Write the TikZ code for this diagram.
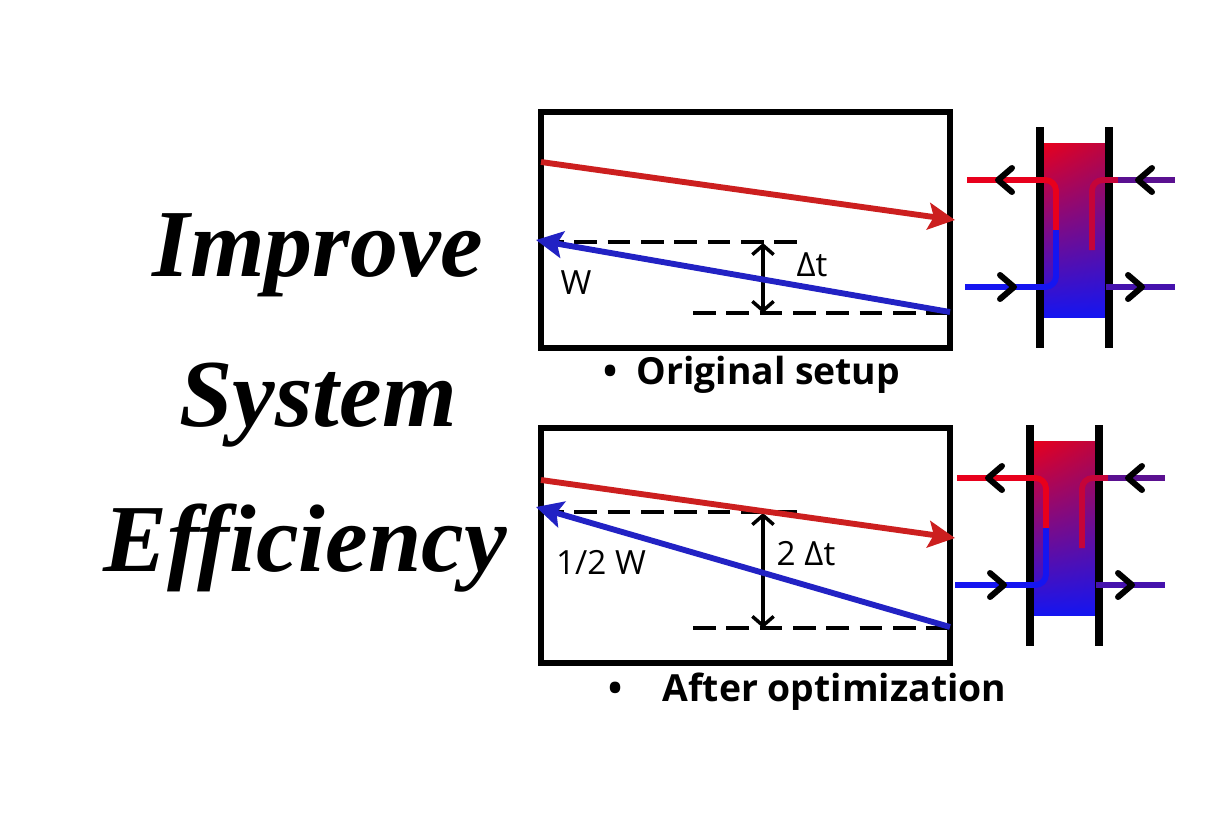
\documentclass[tikz,border=0pt]{standalone}
\usepackage{fontspec}
\setmainfont{Open Sans}
\newfontfamily\titlefont{Liberation Serif}
\usetikzlibrary{arrows.meta,shadings}
\definecolor{hr}{HTML}{CC1F1F}
\definecolor{hb}{HTML}{2222C4}
\definecolor{pr}{HTML}{E8001C}
\definecolor{pb}{HTML}{1515F0}
\definecolor{pp}{HTML}{5A1090}
\begin{document}
\begin{tikzpicture}[x=0.75pt,y=-0.75pt,
  boxf/.style={line width=3.8pt},
  hot/.style={hr,line width=4.4pt,-{Stealth[length=20pt,width=20pt,inset=4pt]}},
  cold/.style={hb,line width=4.4pt,-{Stealth[length=20pt,width=20pt,inset=4pt]}},
  dsh/.style={line width=3pt,dash pattern=on 17pt off 8pt},
  dim/.style={line width=2.6pt,{Straight Barb[length=7pt,width=16pt,line width=2.6pt]}-{Straight Barb[length=7pt,width=16pt,line width=2.6pt]}},
  lbl/.style={font=\fontsize{25}{28}\selectfont},
  captxt/.style={font=\bfseries\fontsize{28}{32}\selectfont},
  ttl/.style={font=\titlefont\bfseries\itshape\fontsize{72}{76}\selectfont},
  pipe/.style={line width=4.4pt},
  chev/.style={line width=4.5pt,line cap=round,line join=round},
  bar/.style={line width=5.5pt}]
\useasboundingbox (0,0) rectangle (1221,814);
\fill[white] (0,0) rectangle (1221,814);
% title
\node[ttl] (t1) at (318,255) {Improve};
\node[ttl] (t2) at (318,405) {System};
\node[ttl] (t3) at (305,548) {Efficiency};
% panel 1
\draw[boxf] (541,112) rectangle (950,348);
\coordinate (r1a) at (541,162); \coordinate (r1b) at (955,220);
\coordinate (b1a) at (950,312); \coordinate (b1b) at (536,240);
\draw[dsh] (541,242) -- (800,242);
\draw[dsh] (693,313) -- (950,313);
\coordinate (d1a) at (763,243); \coordinate (d1b) at (763,313);
\draw[dim] (d1a) -- (d1b);
\draw[hot] (r1a) -- (r1b);
\draw[cold] (b1a) -- (b1b);
\node[lbl] (dt1) at (812,265) {Δt};
\node[lbl] (w1) at (576,283) {W};
\node[captxt] (c1) at (752,375) {•\enspace Original setup};
% panel 2
\draw[boxf] (541,428) rectangle (950,663);
\coordinate (r2a) at (541,480); \coordinate (r2b) at (955,538);
\coordinate (b2a) at (950,627); \coordinate (b2b) at (536,507);
\draw[dsh] (541,512) -- (800,512);
\draw[dsh] (693,628) -- (950,628);
\coordinate (d2a) at (763,513); \coordinate (d2b) at (763,628);
\draw[dim] (d2a) -- (d2b);
\draw[hot] (r2a) -- (r2b);
\draw[cold] (b2a) -- (b2b);
\node[lbl] (dt2) at (806,554) {2 Δt};
\node[lbl] (w2) at (601,562) {1/2 W};
\node[captxt,anchor=west] (c2) at (604,692) {•\hspace{30pt}After optimization};
% heat exchangers
\foreach \dx/\dy in {0/0,-10/298}{
\begin{scope}[shift={(\dx,\dy)}]
\shade[upper left=pr,upper right=pr!70!pp,lower left=pb,lower right=pb] (1043,143) rectangle (1106,317);
\draw[bar] (1040,127) -- (1040,348);
\draw[bar] (1109,127) -- (1109,348);
\draw[pipe,pr,rounded corners=8pt] (967,180) -- (1056,180) -- (1056,235);
\draw[pipe,pb,rounded corners=8pt] (1056,230) -- (1056,287) -- (965,287);
\draw[pipe,pr!75!pp,rounded corners=8pt] (1092,250) -- (1092,180) -- (1120,180);
\draw[pipe,pp] (1118,180) -- (1175,180);
\draw[pipe,pp!70!pb] (1106,287) -- (1175,287);
\draw[chev] (1012,168) -- (998,180) -- (1012,192);
\draw[chev] (1000,275) -- (1014,287) -- (1000,299);
\draw[chev] (1152,168) -- (1138,180) -- (1152,192);
\draw[chev] (1128,275) -- (1142,287) -- (1128,299);
\end{scope}}
\end{tikzpicture}
\end{document}
